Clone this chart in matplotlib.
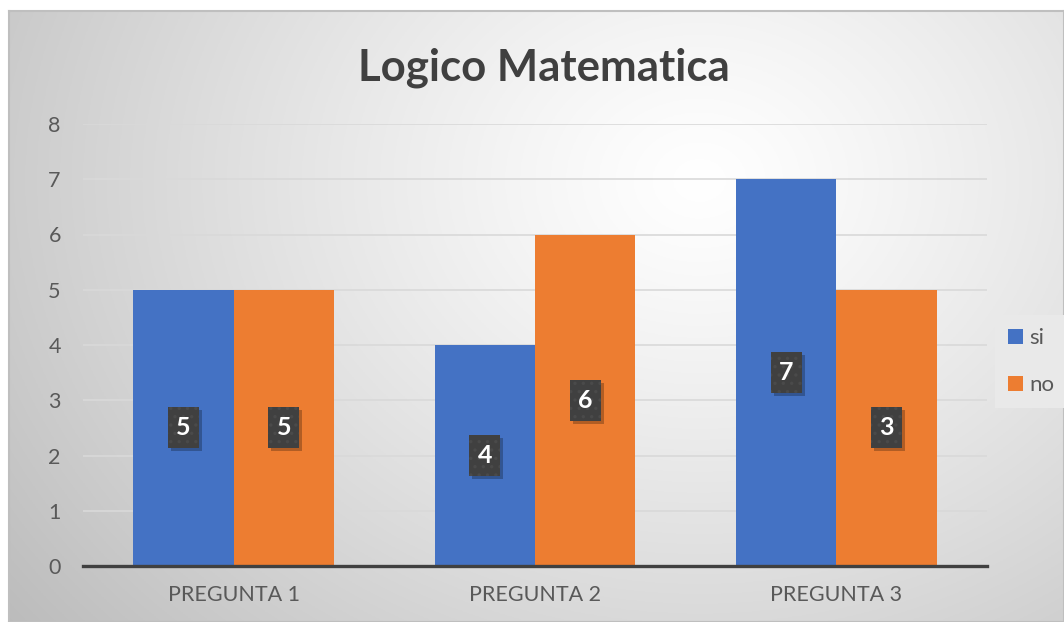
import numpy as np
import matplotlib
matplotlib.use("Agg")
import matplotlib.pyplot as plt
import matplotlib.patches as mpatches
import matplotlib.transforms as mtransforms

# data
categories = ["PREGUNTA 1", "PREGUNTA 2", "PREGUNTA 3"]
si_values = [5, 4, 7]
no_values = [5, 6, 5]
si_labels = ["5", "4", "7"]
no_labels = ["5", "6", "3"]
series_names = ["si", "no"]

plt.rcParams['font.family'] = ['Lato', 'DejaVu Sans']
W, H = 1064, 622
fig = plt.figure(figsize=(W / 100, H / 100), dpi=100)
fig.patch.set_facecolor("white")

# gradient background of the chart area
bg = fig.add_axes([9 / W, 0, 1 - 9 / W, 1 - 11 / H])
xx, yy = np.meshgrid(np.linspace(9, W, 400), np.linspace(11, H, 300))
r = np.sqrt(((xx - 700) / 800) ** 2 + ((yy - 180) / 650) ** 2)
val = 255 - 60 * np.clip(r, 0, 1.15) ** 1.2
img = np.dstack([val, val, val]) / 255.0
bg.imshow(img, aspect="auto", extent=[0, 1, 0, 1], origin="upper")
bg.set_xticks([])
bg.set_yticks([])
for s in bg.spines.values():
    s.set_color("#BFBFBF")
    s.set_linewidth(1.5)

ax = fig.add_axes([83 / W, (H - 566) / H, (987 - 83) / W, (566 - 124) / H])
ax.patch.set_alpha(0)
x = np.arange(len(categories))
w = 1 / 3
blue = "#4472C4"
orange = "#ED7D31"
b1 = ax.bar(x - w / 2, si_values, w, color=blue, zorder=2)
b2 = ax.bar(x + w / 2, no_values, w, color=orange, zorder=2)

ax.set_xlim(-0.5, 2.5)
ax.set_ylim(0, 8)
ax.set_yticks(range(0, 9))
ax.set_xticks(x)
ax.set_xticklabels(categories)
ax.tick_params(length=0, labelsize=15.5, colors="#595959")
ax.tick_params(axis="y", pad=16)
ax.tick_params(axis="x", pad=14)
ax.grid(axis="y", color="#D9D9D9", linewidth=1.2, zorder=0)
for s in ["top", "right", "left"]:
    ax.spines[s].set_visible(False)
ax.spines["bottom"].set_color("#404040")
ax.spines["bottom"].set_linewidth(2.4)
ax.spines["bottom"].set_zorder(3)

# data labels: dark boxes with shadow
plt.rcParams['hatch.linewidth'] = 1.2
def add_label(xc, yc, txt):
    tr = fig.dpi_scale_trans + mtransforms.ScaledTranslation(xc, yc, ax.transData)
    shadow = mpatches.Rectangle((-0.125, -0.235), 0.31, 0.41, transform=tr,
                                facecolor="black", alpha=0.25, linewidth=0, zorder=3.5)
    ax.add_patch(shadow)
    rect = mpatches.Rectangle((-0.155, -0.205), 0.31, 0.41, transform=tr,
                              facecolor="#404040", edgecolor="#4a4a4a",
                              linewidth=0, hatch="..", zorder=4)
    ax.add_patch(rect)
    ax.text(xc, yc, txt, color="white", fontsize=18, fontweight="bold",
            ha="center", va="center", zorder=5)

for i in range(len(categories)):
    add_label(x[i] - w / 2, si_values[i] / 2, si_labels[i])
    add_label(x[i] + w / 2, no_values[i] / 2, no_labels[i])

fig.text(544 / W, (H - 80) / H, "Logico Matematica", fontsize=31.5,
         fontweight="bold", color="#404040", ha="center", va="baseline")

leg = fig.legend([b1, b2], series_names, loc="upper left",
                 bbox_to_anchor=(995 / W, (H - 315) / H), fontsize=16,
                 handlelength=0.65, handleheight=0.65, handletextpad=0.3,
                 labelspacing=1.2, borderpad=0.6, borderaxespad=0,
                 fancybox=False, frameon=True, facecolor="#E9E9E9",
                 edgecolor="none", framealpha=1)
for t in leg.get_texts():
    t.set_color("#595959")

fig.savefig("out.png", dpi=100)
